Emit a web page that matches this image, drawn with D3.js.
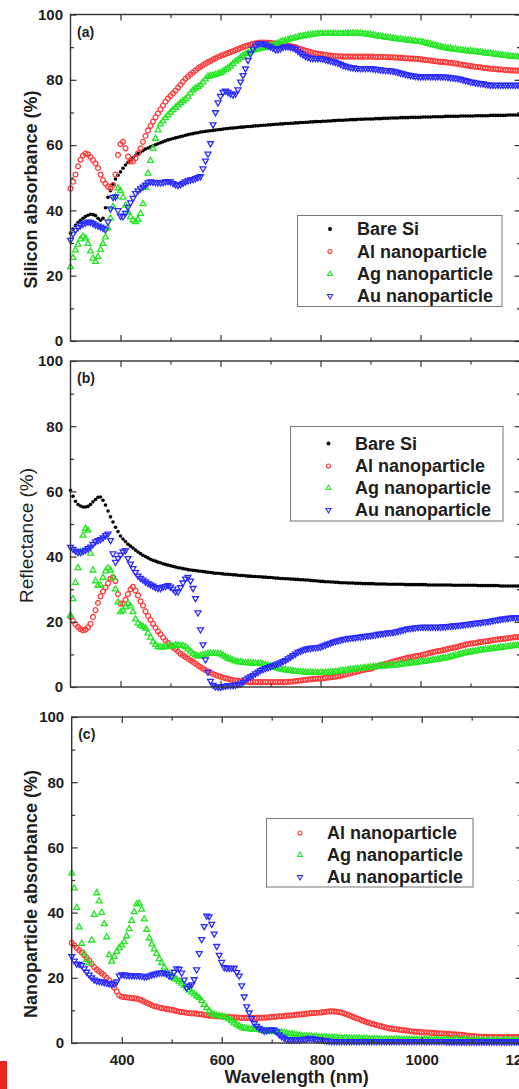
<!DOCTYPE html>
<html>
<head>
<meta charset="utf-8">
<script src="https://cdn.jsdelivr.net/npm/d3@7"></script>
<style>
body { margin: 0; background: #fff; }
svg { display: block; font-family: "Liberation Sans", Arial, sans-serif; }
.tick line { stroke: #333; stroke-width: 1.2; }
.tick text { font-size: 15px; font-weight: bold; fill: #1e1e1e; }
</style>
</head>
<body>
<svg id="chart" width="519" height="1089"></svg>
<script>
// wavelength grid (nm), one reading every 5 nm
var wavelength = d3.range(300, 1201, 5);

// (a) silicon absorbance (%)
var aBareSi = [
33.0,34.3,35.4,36.3,37.0,37.6,38.1,38.5,38.8,38.7,
38.4,37.6,37.0,37.6,40.8,44.0,46.0,48.0,49.6,50.8,
51.8,52.9,53.9,54.7,55.4,56.1,56.8,57.4,57.9,58.3,
58.8,59.1,59.5,59.8,60.1,60.4,60.7,61.0,61.3,61.6,
61.8,62.0,62.2,62.4,62.6,62.8,63.0,63.2,63.4,63.5,
63.7,63.8,64.0,64.1,64.2,64.3,64.4,64.5,64.6,64.7,
64.8,64.9,65.0,65.1,65.2,65.2,65.3,65.4,65.5,65.5,
65.6,65.7,65.7,65.8,65.9,65.9,66.0,66.1,66.1,66.2,
66.2,66.3,66.4,66.4,66.5,66.5,66.6,66.6,66.7,66.7,
66.8,66.8,66.9,66.9,67.0,67.0,67.1,67.1,67.2,67.2,
67.2,67.3,67.3,67.4,67.4,67.5,67.5,67.6,67.6,67.6,
67.7,67.7,67.8,67.8,67.8,67.9,67.9,67.9,68.0,68.0,
68.0,68.0,68.1,68.1,68.1,68.2,68.2,68.2,68.3,68.3,
68.3,68.3,68.4,68.4,68.4,68.4,68.5,68.5,68.5,68.5,
68.5,68.6,68.6,68.6,68.6,68.7,68.7,68.7,68.7,68.7,
68.8,68.8,68.8,68.8,68.8,68.8,68.9,68.9,68.9,68.9,
68.9,68.9,69.0,69.0,69.0,69.0,69.0,69.0,69.1,69.1,
69.1,69.1,69.1,69.1,69.1,69.2,69.2,69.2,69.2,69.2,
69.2];
var aAl = [
46.7,48.8,51.0,53.5,55.5,56.8,57.4,57.2,56.4,55.4,
54.4,53.0,51.0,49.3,48.2,47.3,46.8,47.8,51.0,57.0,
60.3,61.0,59.0,56.5,55.0,55.0,56.0,57.5,59.0,61.0,
62.8,64.5,65.9,67.2,68.5,69.7,70.9,72.1,73.3,74.3,
75.1,75.9,76.7,77.6,78.5,79.4,80.3,81.0,81.7,82.3,
82.9,83.5,84.0,84.5,85.0,85.4,85.8,86.2,86.6,87.0,
87.3,87.6,87.9,88.2,88.5,88.8,89.1,89.4,89.7,90.0,
90.3,90.6,90.8,91.0,91.2,91.3,91.4,91.4,91.4,91.3,
91.3,91.2,91.1,91.0,90.9,90.8,90.7,90.5,90.3,90.1,
90.0,89.7,89.4,89.2,88.9,88.7,88.5,88.3,88.1,88.0,
87.9,87.7,87.6,87.5,87.4,87.3,87.3,87.2,87.2,87.1,
87.1,87.1,87.1,87.1,87.1,87.1,87.1,87.1,87.1,87.1,
87.1,87.1,87.0,87.0,87.0,87.0,87.0,86.9,86.9,86.9,
86.8,86.8,86.7,86.7,86.6,86.6,86.5,86.5,86.4,86.4,
86.3,86.2,86.1,86.0,85.9,85.8,85.7,85.6,85.5,85.5,
85.4,85.3,85.2,85.1,85.0,84.9,84.7,84.6,84.5,84.3,
84.2,84.1,84.0,83.9,83.8,83.7,83.6,83.5,83.4,83.4,
83.3,83.2,83.2,83.1,83.0,83.0,82.9,82.9,82.8,82.8,
82.7];
var aAg = [
22.7,25.5,27.8,29.6,31.2,32.0,31.5,29.8,27.5,25.3,
24.3,25.8,28.0,29.8,31.8,34.6,37.6,41.1,44.2,46.8,
46.0,44.0,41.5,39.5,38.0,37.0,36.5,37.2,39.0,42.0,
47.0,51.3,55.2,59.0,62.0,64.6,66.4,67.4,68.3,69.2,
70.0,70.8,71.5,72.2,72.9,73.5,74.1,74.9,75.9,76.8,
77.4,77.9,78.4,79.3,80.2,81.0,81.2,81.4,81.6,81.9,
82.1,82.6,83.1,83.6,84.2,84.9,85.6,86.2,86.8,87.4,
87.9,88.3,88.7,89.0,89.2,89.4,89.6,89.8,90.0,90.1,
90.3,90.6,90.9,91.2,91.5,91.8,92.0,92.3,92.5,92.7,
92.9,93.1,93.3,93.4,93.6,93.7,93.8,93.9,94.0,94.1,
94.1,94.1,94.1,94.1,94.1,94.1,94.1,94.1,94.1,94.1,
94.2,94.2,94.2,94.3,94.3,94.3,94.2,94.1,94.0,93.9,
93.8,93.7,93.5,93.4,93.3,93.2,93.0,92.9,92.8,92.7,
92.6,92.5,92.4,92.3,92.2,92.1,92.0,91.9,91.8,91.7,
91.7,91.5,91.3,91.1,90.9,90.7,90.5,90.3,90.1,89.9,
89.8,89.6,89.5,89.4,89.3,89.2,89.1,89.0,88.9,88.8,
88.8,88.7,88.6,88.5,88.4,88.3,88.2,88.1,88.0,87.9,
87.8,87.7,87.6,87.5,87.4,87.3,87.2,87.1,87.1,87.0,
87.0];
var aAu = [
30.9,32.8,34.0,34.8,35.4,35.8,36.2,36.5,36.4,36.0,
35.6,35.3,35.0,34.6,34.1,36.5,40.5,44.0,44.2,40.0,
38.3,38.1,39.2,41.0,42.4,43.8,45.2,46.0,46.7,47.2,
47.8,48.5,48.8,48.7,48.6,48.5,48.5,48.6,48.8,48.9,
48.8,48.3,47.9,47.7,47.9,48.4,48.8,49.1,49.4,49.5,
49.8,50.1,50.4,52.8,55.2,57.3,60.5,66.3,70.0,73.0,
75.0,76.2,76.6,76.2,75.7,75.4,75.7,77.0,79.4,81.4,
83.4,86.0,88.0,89.5,90.4,91.0,91.2,91.1,90.8,90.4,
90.1,89.7,89.3,89.3,89.6,90.0,90.2,90.2,90.0,89.8,
89.4,88.8,88.2,87.7,87.2,86.9,86.7,86.6,86.6,86.6,
86.6,86.4,86.2,86.0,85.8,85.6,85.4,85.1,84.8,84.4,
84.2,84.0,83.8,83.7,83.6,83.5,83.5,83.5,83.5,83.5,
83.5,83.4,83.3,83.2,83.1,83.0,82.9,82.9,82.8,82.7,
82.5,82.3,82.1,81.9,81.7,81.5,81.4,81.2,81.1,81.0,
81.0,81.0,81.0,81.0,81.0,81.0,81.0,81.0,81.0,80.9,
80.9,80.8,80.7,80.6,80.5,80.4,80.2,80.0,79.8,79.6,
79.4,79.3,79.1,79.0,78.9,78.8,78.6,78.5,78.4,78.4,
78.4,78.4,78.4,78.4,78.4,78.4,78.4,78.4,78.4,78.4,
78.4];

// (b) reflectance (%)
var bBareSi = [
60.3,58.5,57.0,56.0,55.5,55.2,55.2,55.4,56.0,56.8,
57.5,58.2,58.3,57.3,55.8,54.0,52.2,50.6,49.0,47.7,
46.3,45.4,44.6,43.8,43.2,42.6,42.0,41.4,40.9,40.4,
40.0,39.6,39.2,38.9,38.6,38.3,38.1,37.8,37.6,37.4,
37.2,37.0,36.8,36.6,36.5,36.3,36.2,36.0,35.9,35.8,
35.7,35.6,35.5,35.4,35.3,35.2,35.1,35.0,34.9,34.9,
34.8,34.7,34.6,34.6,34.5,34.4,34.4,34.3,34.2,34.2,
34.1,34.0,34.0,33.9,33.9,33.8,33.8,33.7,33.7,33.6,
33.6,33.5,33.4,33.4,33.3,33.3,33.2,33.2,33.1,33.1,
33.0,33.0,32.9,32.9,32.8,32.8,32.7,32.6,32.6,32.5,
32.4,32.4,32.3,32.3,32.2,32.2,32.1,32.1,32.0,32.0,
32.0,31.9,31.9,31.9,31.8,31.8,31.8,31.7,31.7,31.7,
31.7,31.7,31.6,31.6,31.6,31.6,31.6,31.5,31.5,31.5,
31.5,31.5,31.5,31.5,31.4,31.4,31.4,31.4,31.4,31.4,
31.4,31.4,31.4,31.3,31.3,31.3,31.3,31.3,31.3,31.3,
31.3,31.3,31.3,31.2,31.2,31.2,31.2,31.2,31.2,31.2,
31.2,31.2,31.2,31.1,31.1,31.1,31.1,31.1,31.1,31.1,
31.1,31.1,31.0,31.0,31.0,31.0,31.0,31.0,31.0,31.0,
31.0];
var bAl = [
21.5,20.3,19.2,18.4,17.8,17.4,17.6,18.3,19.4,21.5,
23.6,25.8,27.8,29.3,30.5,31.8,33.2,33.7,32.5,28.5,
25.6,25.6,26.8,28.5,30.0,30.7,29.6,28.1,26.3,25.0,
23.2,21.8,20.6,19.4,18.2,17.1,16.2,15.2,14.2,13.5,
12.8,12.2,11.6,10.9,10.2,9.7,9.2,8.7,8.2,7.7,
7.2,6.6,6.1,5.6,5.2,4.8,4.4,4.0,3.7,3.4,
3.2,2.9,2.7,2.5,2.3,2.1,2.0,1.9,1.8,1.7,
1.6,1.6,1.5,1.5,1.5,1.5,1.5,1.5,1.5,1.5,
1.5,1.5,1.5,1.5,1.5,1.5,1.5,1.6,1.6,1.7,
1.8,1.9,2.0,2.1,2.2,2.3,2.4,2.5,2.5,2.6,
2.6,2.7,2.8,2.9,3.0,3.1,3.2,3.3,3.5,3.6,
3.8,4.0,4.2,4.4,4.6,4.8,5.0,5.2,5.4,5.5,
5.6,5.9,6.2,6.4,6.7,6.9,7.1,7.3,7.5,7.8,
8.0,8.2,8.4,8.6,8.8,9.0,9.1,9.3,9.5,9.6,
9.7,9.9,10.1,10.3,10.5,10.7,10.9,11.0,11.1,11.3,
11.5,11.7,11.9,12.0,12.2,12.4,12.6,12.8,13.0,13.2,
13.3,13.4,13.5,13.7,13.8,13.9,14.0,14.1,14.2,14.4,
14.5,14.6,14.7,14.8,14.9,15.0,15.1,15.2,15.3,15.3,
15.4];
var bAg = [
22.0,27.0,32.0,36.5,41.5,46.5,48.6,48.0,41.0,35.8,
32.5,31.2,31.2,33.5,35.5,36.5,35.8,33.5,30.0,26.0,
23.0,23.5,24.5,25.6,24.8,23.0,20.8,19.5,18.9,18.5,
18.0,16.5,15.2,13.8,13.0,12.3,12.2,12.2,12.3,12.4,
12.5,12.6,12.8,12.8,12.7,12.6,12.3,11.6,10.9,10.2,
9.8,9.4,9.5,9.8,10.0,10.2,10.3,10.3,10.2,10.2,
10.1,9.7,9.2,8.8,8.5,8.2,7.9,7.7,7.6,7.5,
7.4,7.4,7.3,7.3,7.2,7.2,7.2,7.0,6.8,6.6,
6.4,6.1,5.9,5.7,5.5,5.4,5.2,5.1,5.0,4.9,
4.8,4.7,4.6,4.6,4.5,4.5,4.5,4.4,4.4,4.4,
4.4,4.4,4.4,4.5,4.5,4.6,4.7,4.8,4.9,5.0,
5.1,5.2,5.3,5.4,5.5,5.6,5.7,5.8,5.9,6.0,
6.1,6.2,6.2,6.3,6.4,6.4,6.5,6.5,6.6,6.6,
6.7,6.8,6.9,7.0,7.1,7.2,7.3,7.4,7.5,7.6,
7.7,7.8,7.9,8.0,8.1,8.3,8.4,8.5,8.6,8.8,
8.9,9.1,9.3,9.5,9.7,9.9,10.1,10.3,10.5,10.6,
10.7,10.9,11.0,11.2,11.3,11.4,11.5,11.6,11.7,11.8,
11.9,12.0,12.1,12.2,12.3,12.4,12.5,12.6,12.7,12.8,
12.9];
var bAu = [
42.9,42.3,41.8,41.3,41.3,41.6,42.0,42.5,43.0,43.8,
44.6,45.0,45.3,45.8,46.5,47.0,45.0,40.9,38.3,39.5,
40.5,41.5,41.9,39.5,37.8,36.4,35.2,34.1,33.4,32.9,
32.3,31.8,31.4,31.0,30.6,30.3,30.3,30.7,30.9,31.2,
30.7,30.1,29.3,29.2,30.6,32.0,33.2,33.7,32.6,30.3,
27.2,22.8,17.6,13.0,8.4,4.6,1.8,0.6,0.1,0.0,
0.0,0.2,0.3,0.5,0.5,0.5,0.6,0.8,1.0,1.5,
2.3,2.8,3.2,3.6,4.1,4.6,5.1,5.4,5.7,6.0,
6.3,6.6,6.9,7.2,7.5,7.9,8.2,8.7,9.2,9.7,
10.2,10.7,11.0,11.3,11.6,11.8,11.9,12.0,12.1,12.2,
12.3,12.6,12.9,13.2,13.5,13.8,14.0,14.2,14.4,14.6,
14.8,14.9,15.0,15.1,15.2,15.3,15.4,15.5,15.6,15.7,
15.8,15.9,16.0,16.2,16.3,16.4,16.5,16.6,16.7,16.8,
16.9,17.1,17.3,17.5,17.7,17.9,18.0,18.1,18.2,18.3,
18.4,18.4,18.4,18.4,18.4,18.4,18.4,18.4,18.4,18.5,
18.5,18.6,18.7,18.8,18.8,18.9,19.0,19.1,19.2,19.3,
19.4,19.5,19.6,19.7,19.8,19.9,20.0,20.1,20.2,20.4,
20.5,20.6,20.8,20.9,21.0,21.1,21.2,21.3,21.3,21.3,
21.4];

// (c) nanoparticle absorbance (%)
var cAl = [
30.7,30.0,29.2,28.5,27.8,27.0,26.2,25.3,24.2,23.3,
22.5,22.0,21.4,20.8,20.0,19.3,18.3,17.0,15.8,14.6,
14.2,14.1,14.0,13.9,13.8,13.7,13.6,13.4,13.1,12.7,
12.3,12.0,11.6,11.3,11.1,10.9,10.7,10.6,10.4,10.3,
10.2,10.0,9.8,9.6,9.5,9.4,9.3,9.2,9.1,9.1,
9.0,8.9,8.8,8.6,8.5,8.4,8.4,8.3,8.2,8.2,
8.1,8.1,8.0,8.0,7.9,7.9,7.8,7.8,7.7,7.7,
7.7,7.7,7.7,7.7,7.7,7.7,7.7,7.8,7.8,7.9,
8.0,8.0,8.1,8.2,8.2,8.3,8.4,8.4,8.5,8.6,
8.7,8.7,8.8,8.9,9.0,9.1,9.2,9.2,9.3,9.3,
9.4,9.5,9.6,9.7,9.7,9.7,9.6,9.5,9.3,9.1,
8.8,8.5,8.2,7.9,7.6,7.3,7.0,6.7,6.4,6.2,
5.9,5.7,5.5,5.3,5.1,4.9,4.7,4.5,4.4,4.3,
4.2,4.1,4.0,3.9,3.8,3.7,3.6,3.5,3.4,3.4,
3.3,3.3,3.2,3.2,3.1,3.1,3.0,3.0,2.9,2.9,
2.8,2.8,2.7,2.7,2.6,2.6,2.5,2.4,2.3,2.2,
2.1,2.1,2.0,2.0,1.9,1.9,1.9,1.8,1.8,1.8,
1.8,1.8,1.8,1.8,1.8,1.8,1.8,1.8,1.8,1.8,
1.8];
var cAg = [
52.1,47.5,41.5,35.5,30.5,27.5,25.5,24.5,31.5,39.4,
46.0,43.5,40.0,36.5,32.5,27.0,25.0,26.5,28.0,29.2,
30.0,31.0,32.8,35.0,37.5,40.2,42.6,42.8,41.0,38.0,
34.8,32.2,30.3,28.8,27.4,25.8,24.6,23.2,22.0,21.2,
20.4,19.9,19.4,18.9,18.3,17.6,16.9,16.2,15.6,15.0,
14.4,13.8,13.0,11.8,10.8,9.8,9.0,8.7,8.4,8.3,
8.2,8.0,7.7,7.3,6.8,6.1,5.6,5.2,4.8,4.5,
4.4,4.3,4.2,4.1,4.1,4.0,3.9,3.8,3.7,3.6,
3.6,3.5,3.4,3.3,3.2,3.1,2.9,2.8,2.7,2.6,
2.4,2.3,2.2,2.1,2.1,2.0,2.0,1.9,1.9,1.8,
1.8,1.8,1.7,1.7,1.7,1.6,1.6,1.6,1.5,1.5,
1.5,1.5,1.4,1.4,1.4,1.4,1.3,1.3,1.3,1.2,
1.2,1.2,1.2,1.2,1.1,1.1,1.1,1.1,1.1,1.1,
1.1,1.1,1.1,1.0,1.0,1.0,1.0,1.0,1.0,1.0,
1.0,1.0,1.0,1.0,1.0,0.9,0.9,0.9,0.9,0.9,
0.9,0.9,0.9,0.9,0.9,0.9,0.9,0.9,0.8,0.8,
0.8,0.8,0.8,0.8,0.8,0.8,0.8,0.8,0.8,0.8,
0.8,0.8,0.8,0.8,0.8,0.8,0.8,0.8,0.8,0.8,
0.8];
var cAu = [
26.6,25.2,24.3,24.2,23.8,22.8,21.8,20.9,20.1,19.4,
19.1,18.9,18.8,18.6,18.4,18.2,18.0,18.1,18.8,20.6,
21.0,20.9,20.8,20.7,20.7,20.7,20.7,20.6,20.5,20.4,
20.4,20.6,20.9,21.1,21.3,21.5,21.5,21.5,21.2,20.6,
20.4,21.8,22.8,22.7,21.5,19.4,16.9,17.5,17.9,19.5,
22.5,27.5,31.8,35.8,39.0,38.8,36.5,33.5,29.7,27.0,
24.8,23.2,23.0,23.0,23.0,23.0,21.7,20.6,17.6,14.2,
11.2,9.3,7.6,6.0,5.2,4.6,4.1,3.7,3.8,4.0,
4.1,4.0,3.4,2.6,2.0,1.5,1.1,1.0,1.0,1.0,
1.0,1.0,1.1,1.2,1.3,1.5,1.4,1.3,1.1,1.0,
1.0,0.8,0.7,0.6,0.5,0.5,0.5,0.5,0.5,0.5,
0.5,0.5,0.5,0.5,0.5,0.5,0.5,0.5,0.5,0.5,
0.5,0.5,0.5,0.5,0.5,0.5,0.5,0.5,0.5,0.5,
0.5,0.5,0.5,0.5,0.5,0.5,0.5,0.5,0.5,0.5,
0.5,0.5,0.5,0.5,0.5,0.5,0.5,0.5,0.5,0.5,
0.4,0.4,0.4,0.4,0.4,0.4,0.4,0.4,0.4,0.4,
0.4,0.4,0.4,0.4,0.4,0.4,0.4,0.4,0.4,0.4,
0.4,0.4,0.4,0.4,0.4,0.4,0.4,0.4,0.4,0.4,
0.3];

var yMajor = [0, 20, 40, 60, 80, 100],
    yMinor = [10, 30, 50, 70, 90],
    xMajor = [400, 600, 800, 1000, 1200],
    xMinor = [500, 700, 900, 1100];

var color = {
  si: "#000000",
  al: "#ff3a3a",
  ag: "#22e622",
  au: "#2b2bff"
};

var svg = d3.select("#chart");

// layout for each of the three stacked frames
var panels = [
  {label: "(a)", top: 14.5, bottom: 341, left: 70.5, right: 520.5,
   title: "Silicon absorbance (%)", titleWeight: "bold", titleSize: 18, titleX: 37, titleY: 189.5,
   series: [
     {name: "Bare Si", values: aBareSi, shape: "dot", color: color.si},
     {name: "Al nanoparticle", values: aAl, shape: "circle", color: color.al},
     {name: "Ag nanoparticle", values: aAg, shape: "up", color: color.ag},
     {name: "Au nanoparticle", values: aAu, shape: "down", color: color.au}],
   legend: {x0: 297.5, y0: 215.5, x1: 502, y1: 306.5, rows: [229, 251.5, 274, 296], markX: 330, textX: 357}},
  {label: "(b)", top: 361, bottom: 687, left: 70.5, right: 520.5,
   title: "Reflectance (%)", titleWeight: "normal", titleSize: 19, titleX: 33, titleY: 535.5,
   series: [
     {name: "Bare Si", values: bBareSi, shape: "dot", color: color.si},
     {name: "Al nanoparticle", values: bAl, shape: "circle", color: color.al},
     {name: "Ag nanoparticle", values: bAg, shape: "up", color: color.ag},
     {name: "Au nanoparticle", values: bAu, shape: "down", color: color.au}],
   legend: {x0: 290.5, y0: 426.5, x1: 503, y1: 521, rows: [443.5, 466, 488, 510], markX: 328.5, textX: 355}},
  {label: "(c)", top: 717, bottom: 1043, left: 71.7, right: 521.7,
   title: "Nanoparticle absorbance (%)", titleWeight: "bold", titleSize: 18, titleX: 37, titleY: 894,
   series: [
     {name: "Al nanoparticle", values: cAl, shape: "circle", color: color.al},
     {name: "Ag nanoparticle", values: cAg, shape: "up", color: color.ag},
     {name: "Au nanoparticle", values: cAu, shape: "down", color: color.au}],
   legend: {x0: 266.5, y0: 818.5, x1: 473, y1: 887, rows: [833, 855, 877], markX: 300, textX: 327},
   xLabels: true}
];

var triUp = d3.symbol().type(d3.symbolTriangle).size(15),
    triUpSmall = d3.symbol().type(d3.symbolTriangle).size(11);

function addMark(sel, shape, c, small) {
  if (shape === "dot") {
    sel.append("circle").attr("r", small ? 2 : 1.8).attr("fill", c);
  } else if (shape === "circle") {
    sel.append("circle").attr("r", small ? 2 : 2.4)
      .attr("fill", "none").attr("stroke", c).attr("stroke-width", small ? 1.1 : 1.3);
  } else {
    sel.append("path").attr("d", small ? triUpSmall() : triUp())
      .attr("transform", shape === "down" ? "rotate(180)" : null)
      .attr("fill", "none").attr("stroke", c).attr("stroke-width", small ? 1.1 : 1.3);
  }
}

panels.forEach(function(p) {
  var x = d3.scaleLinear().domain([300, 1200]).range([p.left, p.right]),
      y = d3.scaleLinear().domain([0, 100]).range([p.bottom, p.top]);

  var g = svg.append("g");

  // data marks
  p.series.forEach(function(s) {
    g.append("g").selectAll("g")
      .data(wavelength.map(function(w, i) { return {w: w, v: s.values[i]}; }))
      .enter().append("g")
        .attr("transform", function(d) { return "translate(" + x(d.w) + "," + y(d.v) + ")"; })
        .each(function() { addMark(d3.select(this), s.shape, s.color, false); });
  });

  // frame
  g.append("rect")
    .attr("x", p.left).attr("y", p.top)
    .attr("width", p.right - p.left).attr("height", p.bottom - p.top)
    .attr("fill", "none").attr("stroke", "#333").attr("stroke-width", 1.4);

  // ticks on all four sides, pointing inward
  g.append("g").attr("transform", "translate(" + p.left + ",0)")
    .call(d3.axisLeft(y).tickValues(yMajor).tickSize(-6).tickPadding(7.5));
  g.append("g").attr("transform", "translate(" + p.left + ",0)")
    .call(d3.axisLeft(y).tickValues(yMinor).tickSize(-3.5).tickFormat(""));
  g.append("g").attr("transform", "translate(" + p.right + ",0)")
    .call(d3.axisRight(y).tickValues(yMajor).tickSize(-6).tickFormat(""));
  g.append("g").attr("transform", "translate(" + p.right + ",0)")
    .call(d3.axisRight(y).tickValues(yMinor).tickSize(-3.5).tickFormat(""));
  g.append("g").attr("transform", "translate(0," + p.top + ")")
    .call(d3.axisTop(x).tickValues(xMajor).tickSize(-6).tickFormat(""));
  g.append("g").attr("transform", "translate(0," + p.top + ")")
    .call(d3.axisTop(x).tickValues(xMinor).tickSize(-3.5).tickFormat(""));
  var xb = d3.axisBottom(x).tickValues(xMajor).tickSize(-6).tickPadding(11.3)
    .tickFormat(p.xLabels ? d3.format("d") : "");
  g.append("g").attr("transform", "translate(0," + p.bottom + ")").call(xb);
  g.append("g").attr("transform", "translate(0," + p.bottom + ")")
    .call(d3.axisBottom(x).tickValues(xMinor).tickSize(-3.5).tickFormat(""));
  g.selectAll(".domain").remove();

  // panel letter
  g.append("text").attr("x", p.left + 6.5).attr("y", p.top + 22)
    .attr("font-size", 14).attr("font-weight", "bold").attr("fill", "#1e1e1e")
    .text(p.label);

  // y axis title
  g.append("text")
    .attr("transform", "translate(" + p.titleX + "," + p.titleY + ") rotate(-90)")
    .attr("text-anchor", "middle")
    .attr("font-size", p.titleSize).attr("font-weight", p.titleWeight).attr("fill", "#1e1e1e")
    .text(p.title);

  // legend
  var L = p.legend;
  var lg = g.append("g");
  lg.append("rect")
    .attr("x", L.x0).attr("y", L.y0)
    .attr("width", L.x1 - L.x0).attr("height", L.y1 - L.y0)
    .attr("fill", "#fff").attr("stroke", "#777").attr("stroke-width", 1);
  p.series.forEach(function(s, i) {
    var m = lg.append("g").attr("transform", "translate(" + L.markX + "," + L.rows[i] + ")");
    addMark(m, s.shape, s.color, true);
    lg.append("text")
      .attr("x", L.textX).attr("y", L.rows[i]).attr("dy", "0.36em")
      .attr("font-size", 18).attr("font-weight", "bold").attr("fill", "#1e1e1e")
      .text(s.name);
  });
});

// shared x axis title
svg.append("text")
  .attr("x", 296.7).attr("y", 1083)
  .attr("text-anchor", "middle")
  .attr("font-size", 18).attr("font-weight", "bold").attr("fill", "#1e1e1e")
  .text("Wavelength (nm)");

// red corner tab from the source page
svg.append("rect").attr("x", 0).attr("y", 1061).attr("width", 7).attr("height", 28).attr("fill", "#e8281f");
</script>
</body>
</html>
